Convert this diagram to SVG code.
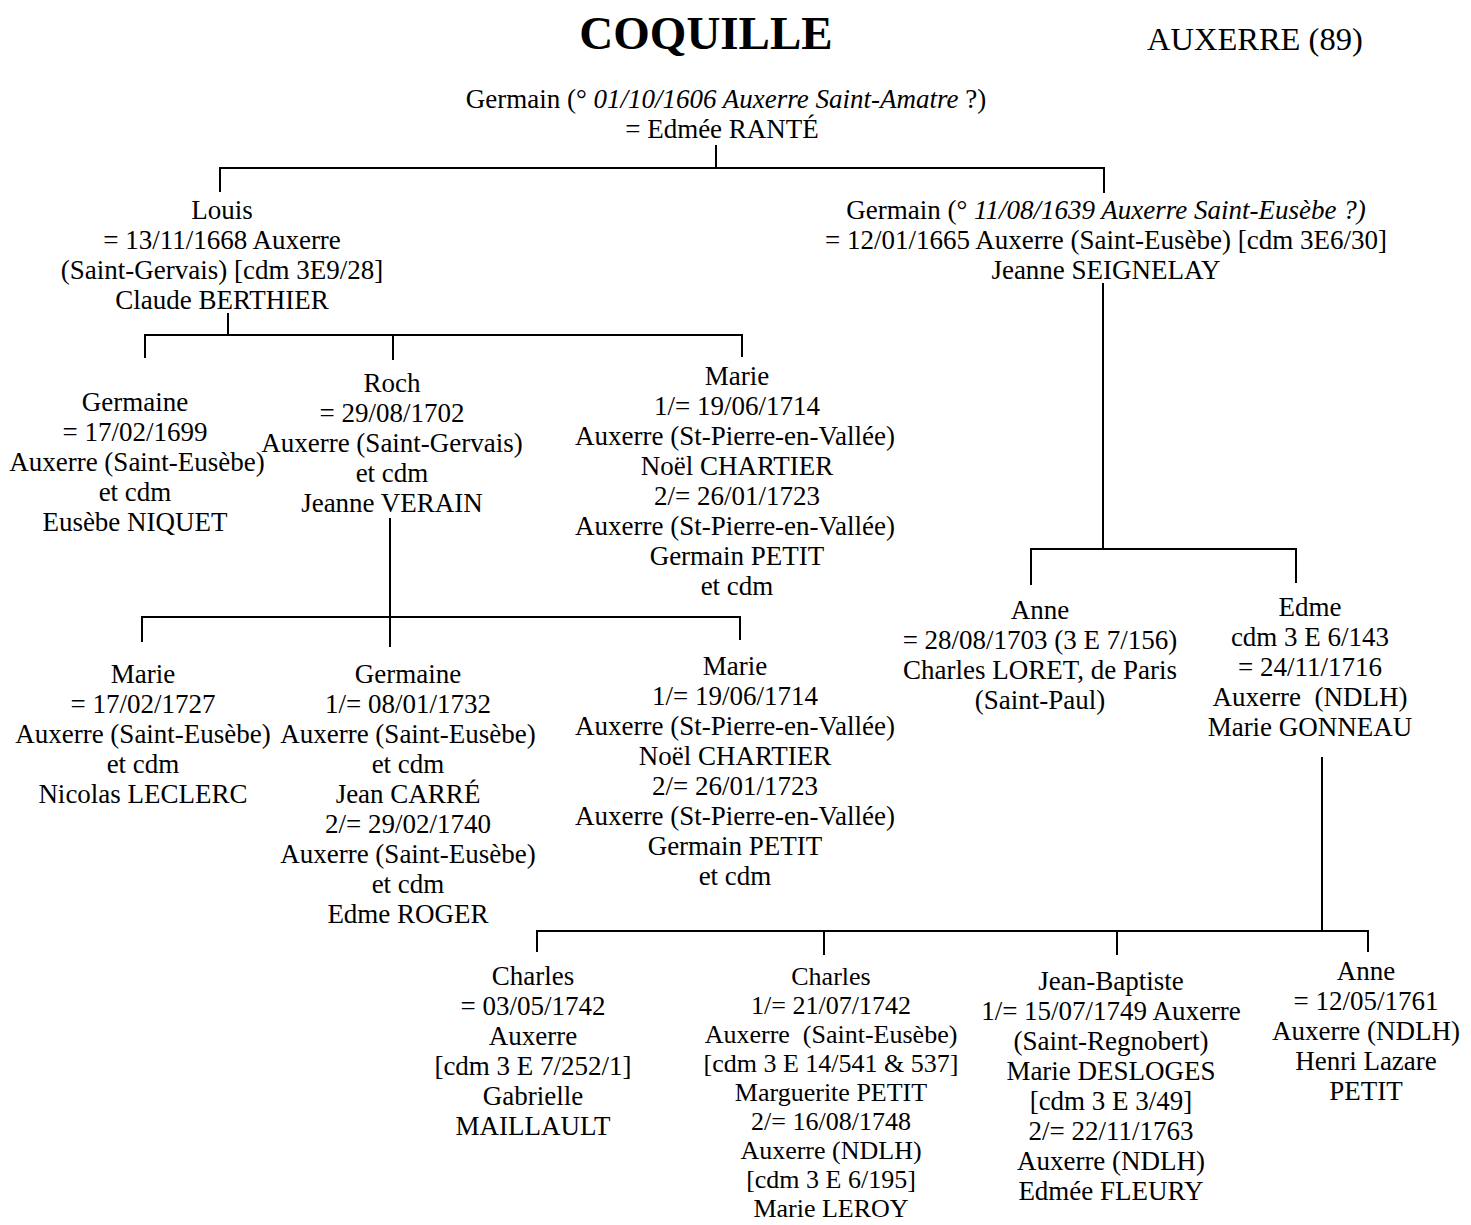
<svg xmlns="http://www.w3.org/2000/svg" width="1471" height="1225" viewBox="0 0 1471 1225">
<style>
text{font-family:"Liberation Serif","Times New Roman",serif;font-size:27px;fill:#000;text-anchor:middle}
.it{font-style:italic}
.title{font-size:47px;font-weight:bold}
.place{font-size:32.5px;text-anchor:start}
.tight{font-size:26px}
#connectors line{stroke:#000;stroke-width:2}
</style>
<rect width="1471" height="1225" fill="#fff"/>
<g id="header">
<text class="title" x="706" y="49">COQUILLE</text>
<text class="place" x="1147" y="50">AUXERRE (89)</text>
</g>
<g id="connectors">
<line x1="716" y1="145" x2="716" y2="168"/>
<line x1="219" y1="168" x2="1105" y2="168"/>
<line x1="220" y1="168" x2="220" y2="192"/>
<line x1="1104" y1="168" x2="1104" y2="193"/>
<line x1="228" y1="313" x2="228" y2="335"/>
<line x1="144" y1="335" x2="743" y2="335"/>
<line x1="145" y1="335" x2="145" y2="358"/>
<line x1="393" y1="335" x2="393" y2="360"/>
<line x1="742" y1="335" x2="742" y2="357"/>
<line x1="390" y1="518" x2="390" y2="617"/>
<line x1="141" y1="617" x2="741" y2="617"/>
<line x1="142" y1="617" x2="142" y2="642"/>
<line x1="390" y1="617" x2="390" y2="647"/>
<line x1="740" y1="617" x2="740" y2="640"/>
<line x1="1103" y1="283" x2="1103" y2="549"/>
<line x1="1030" y1="549" x2="1297" y2="549"/>
<line x1="1031" y1="549" x2="1031" y2="585"/>
<line x1="1296" y1="549" x2="1296" y2="583"/>
<line x1="1322" y1="757" x2="1322" y2="931"/>
<line x1="536" y1="931" x2="1369" y2="931"/>
<line x1="537" y1="931" x2="537" y2="952"/>
<line x1="824" y1="931" x2="824" y2="955"/>
<line x1="1117" y1="931" x2="1117" y2="955"/>
<line x1="1368" y1="931" x2="1368" y2="952"/>
</g>
<g id="root">
<text x="726" y="108">Germain (° <tspan class="it">01/10/1606 Auxerre Saint-Amatre</tspan> ?)</text>
<text x="722" y="138">= Edmée RANTÉ</text>
</g>
<g id="louis">
<text x="222" y="219"><tspan x="222">Louis</tspan><tspan x="222" dy="30">= 13/11/1668 Auxerre</tspan><tspan x="222" dy="30">(Saint-Gervais) [cdm 3E9/28]</tspan><tspan x="222" dy="30">Claude BERTHIER</tspan></text>
</g>
<g id="germain2">
<text x="1106" y="219">Germain (° <tspan class="it">11/08/1639 Auxerre Saint-Eusèbe ?)</tspan></text>
<text x="1106" y="249"><tspan x="1106">= 12/01/1665 Auxerre (Saint-Eusèbe) [cdm 3E6/30]</tspan><tspan x="1106" dy="30">Jeanne SEIGNELAY</tspan></text>
</g>
<g id="germaine1">
<text y="411"><tspan x="135">Germaine</tspan><tspan x="135" dy="30">= 17/02/1699</tspan><tspan x="137" dy="30">Auxerre (Saint-Eusèbe)</tspan><tspan x="135" dy="30">et cdm</tspan><tspan x="135" dy="30">Eusèbe NIQUET</tspan></text>
</g>
<g id="roch">
<text y="392"><tspan x="392">Roch</tspan><tspan x="392" dy="30">= 29/08/1702</tspan><tspan x="392" dy="30">Auxerre (Saint-Gervais)</tspan><tspan x="392" dy="30">et cdm</tspan><tspan x="392" dy="30">Jeanne VERAIN</tspan></text>
</g>
<g id="marie1">
<text y="385"><tspan x="737">Marie</tspan><tspan x="737" dy="30">1/= 19/06/1714</tspan><tspan x="735" dy="30">Auxerre (St-Pierre-en-Vallée)</tspan><tspan x="737" dy="30">Noël CHARTIER</tspan><tspan x="737" dy="30">2/= 26/01/1723</tspan><tspan x="735" dy="30">Auxerre (St-Pierre-en-Vallée)</tspan><tspan x="737" dy="30">Germain PETIT</tspan><tspan x="737" dy="30">et cdm</tspan></text>
</g>
<g id="marie2">
<text y="683"><tspan x="143">Marie</tspan><tspan x="143" dy="30">= 17/02/1727</tspan><tspan x="143" dy="30">Auxerre (Saint-Eusèbe)</tspan><tspan x="143" dy="30">et cdm</tspan><tspan x="143" dy="30">Nicolas LECLERC</tspan></text>
</g>
<g id="germaine2">
<text y="683"><tspan x="408">Germaine</tspan><tspan x="408" dy="30">1/= 08/01/1732</tspan><tspan x="408" dy="30">Auxerre (Saint-Eusèbe)</tspan><tspan x="408" dy="30">et cdm</tspan><tspan x="408" dy="30">Jean CARRÉ</tspan><tspan x="408" dy="30">2/= 29/02/1740</tspan><tspan x="408" dy="30">Auxerre (Saint-Eusèbe)</tspan><tspan x="408" dy="30">et cdm</tspan><tspan x="408" dy="30">Edme ROGER</tspan></text>
</g>
<g id="marie3">
<text y="675"><tspan x="735">Marie</tspan><tspan x="735" dy="30">1/= 19/06/1714</tspan><tspan x="735" dy="30">Auxerre (St-Pierre-en-Vallée)</tspan><tspan x="735" dy="30">Noël CHARTIER</tspan><tspan x="735" dy="30">2/= 26/01/1723</tspan><tspan x="735" dy="30">Auxerre (St-Pierre-en-Vallée)</tspan><tspan x="735" dy="30">Germain PETIT</tspan><tspan x="735" dy="30">et cdm</tspan></text>
</g>
<g id="anne1">
<text y="619"><tspan x="1040">Anne</tspan><tspan x="1040" dy="30">= 28/08/1703 (3 E 7/156)</tspan><tspan x="1040" dy="30">Charles LORET, de Paris</tspan><tspan x="1040" dy="30">(Saint-Paul)</tspan></text>
</g>
<g id="edme">
<text y="616"><tspan x="1310">Edme</tspan><tspan x="1310" dy="30">cdm 3 E 6/143</tspan><tspan x="1310" dy="30">= 24/11/1716</tspan><tspan x="1310" dy="30">Auxerre&#160; (NDLH)</tspan><tspan x="1310" dy="30">Marie GONNEAU</tspan></text>
</g>
<g id="charles1">
<text y="985"><tspan x="533">Charles</tspan><tspan x="533" dy="30">= 03/05/1742</tspan><tspan x="533" dy="30">Auxerre</tspan><tspan x="533" dy="30">[cdm 3 E 7/252/1]</tspan><tspan x="533" dy="30">Gabrielle</tspan><tspan x="533" dy="30">MAILLAULT</tspan></text>
</g>
<g id="charles2">
<text class="tight" y="985"><tspan x="831">Charles</tspan><tspan x="831" dy="29">1/= 21/07/1742</tspan><tspan x="831" dy="29">Auxerre&#160; (Saint-Eusèbe)</tspan><tspan x="831" dy="29">[cdm 3 E 14/541 &amp; 537]</tspan><tspan x="831" dy="29">Marguerite PETIT</tspan><tspan x="831" dy="29">2/= 16/08/1748</tspan><tspan x="831" dy="29">Auxerre (NDLH)</tspan><tspan x="831" dy="29">[cdm 3 E 6/195]</tspan><tspan x="831" dy="29">Marie LEROY</tspan></text>
</g>
<g id="jeanbaptiste">
<text y="990"><tspan x="1111">Jean-Baptiste</tspan><tspan x="1111" dy="30">1/= 15/07/1749 Auxerre</tspan><tspan x="1111" dy="30">(Saint-Regnobert)</tspan><tspan x="1111" dy="30">Marie DESLOGES</tspan><tspan x="1111" dy="30">[cdm 3 E 3/49]</tspan><tspan x="1111" dy="30">2/= 22/11/1763</tspan><tspan x="1111" dy="30">Auxerre (NDLH)</tspan><tspan x="1111" dy="30">Edmée FLEURY</tspan></text>
</g>
<g id="anne2">
<text y="980"><tspan x="1366">Anne</tspan><tspan x="1366" dy="30">= 12/05/1761</tspan><tspan x="1366" dy="30">Auxerre (NDLH)</tspan><tspan x="1366" dy="30">Henri Lazare</tspan><tspan x="1366" dy="30">PETIT</tspan></text>
</g>
</svg>
